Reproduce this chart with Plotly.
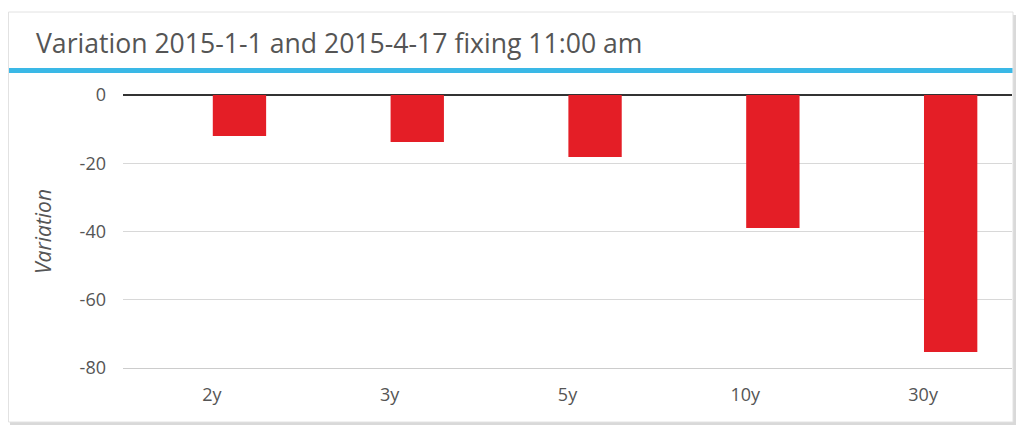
import plotly.graph_objects as go

categories = ["2y", "3y", "5y", "10y", "30y"]
variation = [-12.0, -13.8, -18.2, -39.0, -75.3]
y_ticks = [0, -20, -40, -60, -80]

# page has an 8px body margin; work in figure coordinates (page - 8)
W, H = 1016, 423
L, R, T, B = 115, 12, 87, 63
PW = W - L - R
PH = H - T - B


def px(x):
    return (x - L) / PW


def py(y):
    return (H - B - y) / PH


FONT = "Open Sans"

fig = go.Figure()
fig.add_trace(go.Bar(
    x=categories, y=variation,
    marker=dict(color="#e41e26", line=dict(width=0)),
    offset=0.005, width=0.3,
    hoverinfo="x+y",
))

shapes = [
    # shadow
    dict(type="rect", xref="paper", yref="paper", layer="below",
         x0=px(2), x1=px(1008), y0=py(7), y1=py(417),
         fillcolor="#d9d9d9", line=dict(width=0)),
    # card
    dict(type="rect", xref="paper", yref="paper", layer="below",
         x0=px(0.5), x1=px(1005), y0=py(4), y1=py(414),
         fillcolor="#ffffff", line=dict(color="#e2e2e2", width=1)),
    # blue band
    dict(type="rect", xref="paper", yref="paper", layer="below",
         x0=px(1), x1=px(1004.5), y0=py(60), y1=py(65),
         fillcolor="#3ab8e6", line=dict(width=0)),
]

annotations = [
    dict(text="Variation 2015-1-1 and 2015-4-17 fixing 11:00 am",
         xref="paper", yref="paper", x=px(26), y=py(35),
         xanchor="left", yanchor="middle", showarrow=False,
         font=dict(family=FONT, size=26.6, color="#555555")),
    dict(text="<i>Variation</i>",
         xref="paper", yref="paper", x=px(35), y=py(224),
         xanchor="center", yanchor="middle", showarrow=False, textangle=-90,
         font=dict(family=FONT, size=21, color="#555555")),
]

fig.update_layout(
    width=W, height=H,
    margin=dict(l=L, r=R, t=T, b=B, pad=0),
    paper_bgcolor="#ffffff", plot_bgcolor="rgba(0,0,0,0)",
    showlegend=False,
    shapes=shapes, annotations=annotations,
    font=dict(family=FONT, size=18, color="#555555"),
    xaxis=dict(
        type="category", showgrid=False, showline=True, linecolor="#cccccc",
        linewidth=1, ticks="", ticklabelstandoff=10,
        tickfont=dict(family=FONT, size=18, color="#555555"),
        range=[-0.5, 4.5], fixedrange=True,
    ),
    yaxis=dict(
        range=[-80, 0], tickvals=y_ticks, ticktext=[str(v) for v in y_ticks],
        showgrid=True, gridcolor="#d8d8d8", gridwidth=1,
        zeroline=True, zerolinecolor="#333333", zerolinewidth=1.5,
        showline=False, ticks="", ticklabelstandoff=16,
        tickfont=dict(family=FONT, size=18, color="#555555"),
        fixedrange=True,
    ),
)

fig.write_html("out.html")
